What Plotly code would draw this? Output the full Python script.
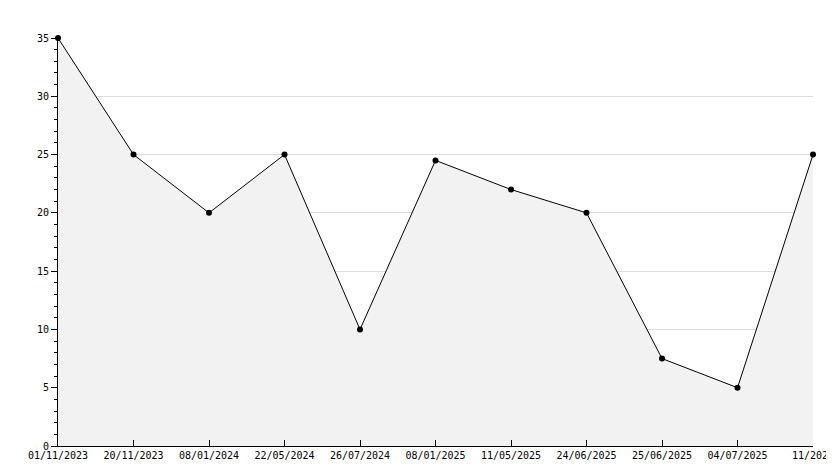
import plotly.graph_objects as go

dates = ["01/11/2023","20/11/2023","08/01/2024","22/05/2024","26/07/2024","08/01/2025",
         "11/05/2025","24/06/2025","25/06/2025","04/07/2025","11/2025"]
values = [35,25,20,25,10,24.5,22,20,7.5,5,25]

fig = go.Figure(go.Scatter(x=dates, y=values, mode="lines+markers", fill="tozeroy",
    fillcolor="#f2f2f2", line=dict(color="black", width=1),
    marker=dict(color="black", size=6, symbol="circle"), cliponaxis=False))
font = dict(family="DejaVu Sans Mono", size=10, color="black")
fig.update_layout(width=834, height=468, plot_bgcolor="white", paper_bgcolor="white",
    margin=dict(l=50, r=29, t=30, b=30, autoexpand=False), showlegend=False, font=font,
    xaxis=dict(type="category", range=[0,10], showgrid=False, showline=True, linecolor="black",
               ticks="inside", ticklen=6, tickcolor="black", zeroline=False, automargin=False),
    yaxis=dict(range=[0,35], dtick=5, showgrid=True, gridcolor="#dddddd", showline=True,
               linecolor="black", ticks="outside", ticklen=6, tickcolor="black", zeroline=False,
               automargin=False,
               minor=dict(dtick=1, ticks="outside", ticklen=3, tickcolor="black", showgrid=False)))
fig.write_html("out.html")
